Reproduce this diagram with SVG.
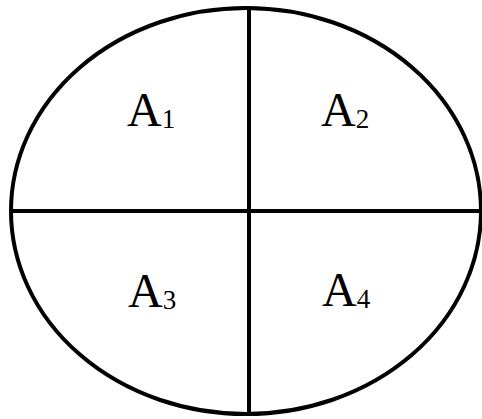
<svg xmlns="http://www.w3.org/2000/svg" width="482" height="419" viewBox="0 0 482 419">
<style>
.ln{fill:none;stroke:#000;stroke-width:4}
.lb{font-family:"Liberation Serif","Times New Roman",serif;font-size:48px;fill:#000}
.sb{font-size:27px}
</style>
<rect width="482" height="419" fill="#fff"/>
<g id="outline">
<ellipse class="ln" cx="246" cy="211" rx="235" ry="203"/>
</g>
<g id="connectors">
<line class="ln" x1="249" y1="8" x2="249" y2="414"/>
<line class="ln" x1="11" y1="211" x2="482" y2="211"/>
</g>
<g id="a1"><text class="lb" x="127" y="126">A<tspan class="sb" dy="2">1</tspan></text></g>
<g id="a2"><text class="lb" x="321" y="126">A<tspan class="sb" dy="2">2</tspan></text></g>
<g id="a3"><text class="lb" x="128" y="307">A<tspan class="sb" dy="2">3</tspan></text></g>
<g id="a4"><text class="lb" x="322" y="306">A<tspan class="sb" dy="2">4</tspan></text></g>
</svg>
